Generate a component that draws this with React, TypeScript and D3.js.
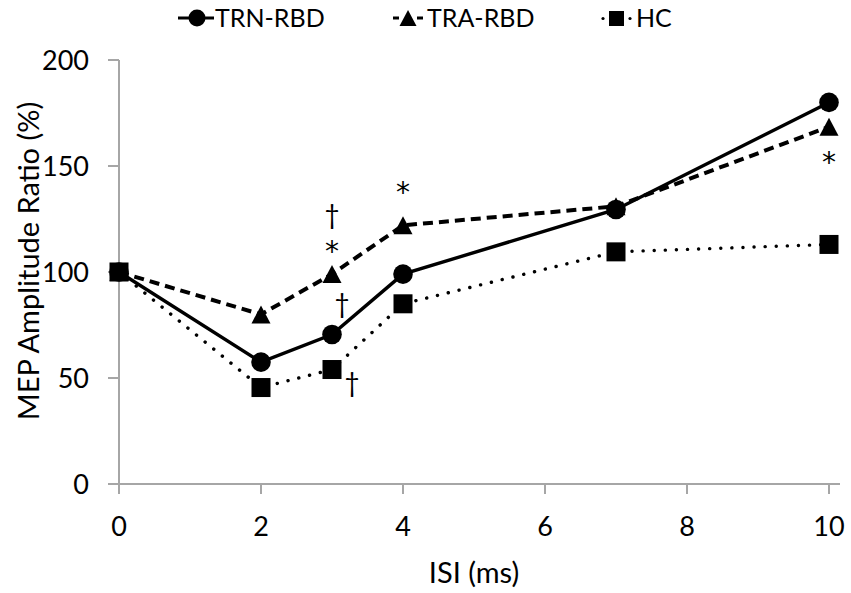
import React from "react";
import * as d3 from "d3";

const isi = [0, 2, 3, 4, 7, 10];
const trnRbd = [100, 57.5, 70.5, 99, 129.5, 180];
const traRbd = [100, 80, 99, 122, 131, 168.5];
const hc = [100, 45.5, 54, 85, 109.5, 113];
const xTicks = [0, 2, 4, 6, 8, 10];
const yTicks = [0, 50, 100, 150, 200];
// annotations: [x, y value, symbol, dx, dy] (glyph centre offset in px)
const annotations: [number, number, string, number, number][] = [
  [3, 99, "*", 0, -29],
  [3, 99, "†", 0, -58],
  [4, 122, "*", 0, -40],
  [3, 70.5, "†", 10, -29],
  [3, 54, "†", 20, 15],
  [10, 168.5, "*", 0, 29],
];

const W = 851, H = 593;
const font = "Lato, 'Open Sans', sans-serif";

export default function App() {
  const x = d3.scaleLinear().domain([0, 10]).range([119, 829]);
  const y = d3.scaleLinear().domain([0, 200]).range([484, 60]);
  const line = (vals: number[]) =>
    d3.line<number>().x((_, i) => x(isi[i])).y((v) => y(v))(vals) || "";
  const tri = (cx: number, cy: number, w = 19, h = 18) =>
    `M${cx},${cy - h / 2}L${cx + w / 2},${cy + h / 2}L${cx - w / 2},${cy + h / 2}Z`;
  const axisColor = "#a6a6a6";
  return (
    <div style={{ position: "absolute", left: 0, top: 0 }}>
      <svg width={W} height={H} style={{ display: "block", background: "#fff" }}>
        {/* axes */}
        <line x1={108} x2={840} y1={y(0)} y2={y(0)} stroke={axisColor} strokeWidth={2} />
        <line x1={x(0)} x2={x(0)} y1={y(200)} y2={y(0)} stroke={axisColor} strokeWidth={2} />
        {yTicks.map((t) => (
          <g key={"y" + t}>
            <line x1={108} x2={x(0)} y1={y(t)} y2={y(t)} stroke={axisColor} strokeWidth={2} />
            <text x={89} y={y(t)} dy="0.36em" textAnchor="end" fontFamily={font} fontSize={27} fill="#000">
              {t}
            </text>
          </g>
        ))}
        {xTicks.map((t) => (
          <g key={"x" + t}>
            <line x1={x(t)} x2={x(t)} y1={y(0)} y2={y(0) + 10} stroke={axisColor} strokeWidth={2} />
            <text x={x(t)} y={536} textAnchor="middle" fontFamily={font} fontSize={27} fill="#000">
              {t}
            </text>
          </g>
        ))}
        <text x={474} y={583} textAnchor="middle" fontFamily={font} fontSize={29} fill="#000">
          ISI (ms)
        </text>
        <text
          transform={`translate(39,261) rotate(-90)`}
          textAnchor="middle"
          fontFamily={font}
          fontSize={29}
          fill="#000"
        >
          MEP Amplitude Ratio (%)
        </text>

        {/* lines */}
        <path d={line(hc)} fill="none" stroke="#000" strokeWidth={3.4} strokeDasharray="0.1 11" strokeLinecap="round" />
        <path d={line(traRbd)} fill="none" stroke="#000" strokeWidth={4} strokeDasharray="10 6" />
        <path d={line(trnRbd)} fill="none" stroke="#000" strokeWidth={3.4} />

        {/* markers */}
        {hc.map((v, i) => (
          <rect key={"h" + i} x={x(isi[i]) - 9.5} y={y(v) - 9.5} width={19} height={19} fill="#000" />
        ))}
        {traRbd.map((v, i) => (
          <path key={"t" + i} d={tri(x(isi[i]), y(v))} fill="#000" />
        ))}
        {trnRbd.map((v, i) => (
          <circle key={"c" + i} cx={x(isi[i])} cy={y(v)} r={9.8} fill="#000" />
        ))}

        {/* annotations */}
        {annotations.map(([ax, av, s, dx, dy], i) => {
          const star = s === "*";
          const fs = star ? 28 : 26;
          const off = star ? 0.58 * fs : 0.3 * fs;
          return (
            <text
              key={"a" + i}
              x={x(ax) + dx}
              y={y(av) + dy + off}
              textAnchor="middle"
              fontFamily={star ? "'DejaVu Sans', sans-serif" : font}
              fontSize={fs}
              fill="#000"
            >
              {s}
            </text>
          );
        })}

        {/* legend */}
        <g>
          <line x1={178} x2={214} y1={18} y2={18} stroke="#000" strokeWidth={3} />
          <circle cx={197} cy={18} r={8.5} fill="#000" />
          <text x={215} y={18} dy="0.36em" fontFamily={font} fontSize={25}>TRN-RBD</text>

          <line x1={393} x2={399} y1={18} y2={18} stroke="#000" strokeWidth={3} />
          <line x1={417} x2={423} y1={18} y2={18} stroke="#000" strokeWidth={3} />
          <path d={tri(408, 18, 17, 16)} fill="#000" />
          <text x={427} y={18} dy="0.36em" fontFamily={font} fontSize={25}>TRA-RBD</text>

          <circle cx={603} cy={18.5} r={1.6} fill="#000" />
          <circle cx={630} cy={18.5} r={1.6} fill="#000" />
          <rect x={609} y={11} width={15} height={15} fill="#000" />
          <text x={636} y={18} dy="0.36em" fontFamily={font} fontSize={25}>HC</text>
        </g>
      </svg>
    </div>
  );
}
